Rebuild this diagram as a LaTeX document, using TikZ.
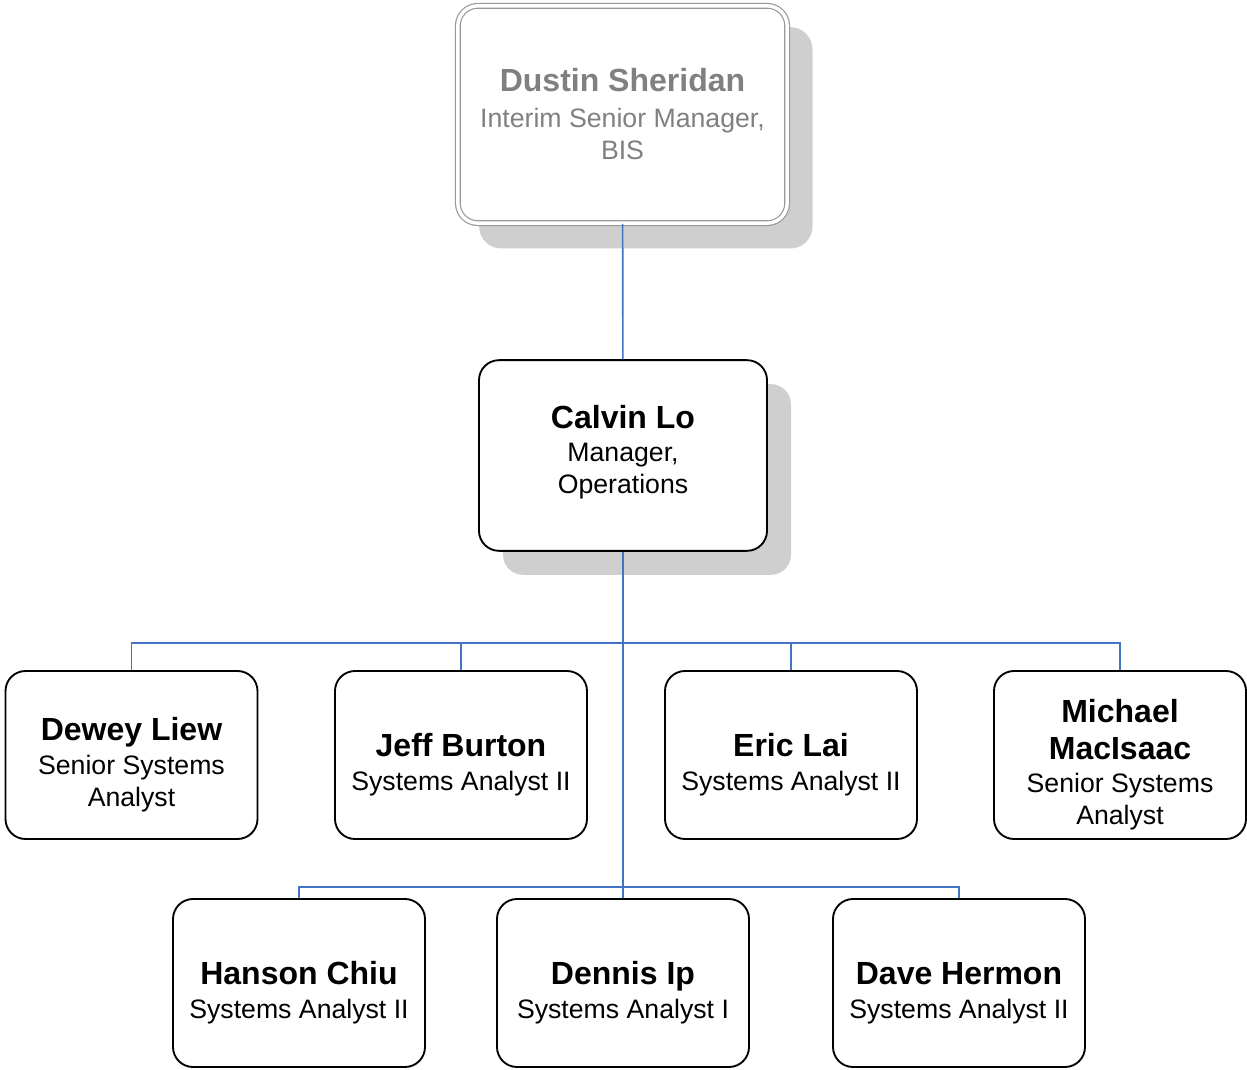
\documentclass[tikz,border=0pt]{standalone}
\usepackage{fontspec}
\setmainfont{Liberation Sans}
\usetikzlibrary{shadows}

\definecolor{azul}{RGB}{68,114,196}
\newcommand{\nombre}[1]{{\fontsize{24}{27}\selectfont\bfseries #1}}
\newcommand{\alto}{\rule{0pt}{32pt}}
\newcommand{\ficha}[2]{\alto\nombre{#1}\\[1pt]#2}

\tikzset{
    persona/.style={draw, line width=1.4pt, rounded corners=15pt, fill=white,
        align=center, minimum width=189pt, minimum height=126pt, inner sep=2pt,
        font=\fontsize{20}{24}\selectfont},
    jefe/.style={persona, drop shadow={shadow xshift=18pt, shadow yshift=-18pt,
        fill=black!19, opacity=1}},
    enlace/.style={draw=azul, line width=1.2pt}
}

\begin{document}
\begin{tikzpicture}[x=0.75pt, y=-0.75pt]
    \useasboundingbox (0,0) rectangle (1247,1070);

    % Direccion
    \node[persona, draw=black!40, line width=0.9pt, double, double distance=2.6pt,
        minimum width=247pt, minimum height=163pt, text=black!50,
        drop shadow={shadow xshift=17.5pt, shadow yshift=-17.5pt, fill=black!19,
        draw=black!19, line width=3pt, opacity=1}]
        (dustin) at (622.5,114.5)
        {\nombre{Dustin Sheridan}\\[3pt]Interim Senior Manager,\\BIS};
    \node[jefe, minimum width=216pt, minimum height=143pt]
        (calvin) at (623,455.5)
        {\nombre{Calvin Lo}\\[1pt]Manager,\\Operations\rule[-9pt]{0pt}{9pt}};

    % Primera fila
    \node[persona] (dewey) at (131.5,755) {\ficha{Dewey Liew}{Senior Systems\\Analyst}};
    \node[persona] (jeff) at (461,755) {\ficha{Jeff Burton}{Systems Analyst II}};
    \node[persona] (eric) at (791,755) {\ficha{Eric Lai}{Systems Analyst II}};
    \node[persona] (michael) at (1120,755)
        {\alto\nombre{Michael}\\[4pt]\nombre{MacIsaac}\\[1pt]Senior Systems\\Analyst};

    % Segunda fila
    \node[persona] (hanson) at (299,983) {\ficha{Hanson Chiu}{Systems Analyst II}};
    \node[persona] (dennis) at (623,983) {\ficha{Dennis Ip}{Systems Analyst I}};
    \node[persona] (dave) at (959,983) {\ficha{Dave Hermon}{Systems Analyst II}};

    % Lineas de mando
    \coordinate (bus1) at (623,643);
    \coordinate (bus2) at (623,887);
    \draw[enlace] (dustin) -- (calvin);
    \draw[enlace] (calvin) -- (dennis);
    \foreach \n in {dewey, jeff, eric, michael} {
        \draw[enlace] (\n.north) |- (bus1);
    }
    \foreach \n in {hanson, dave} {
        \draw[enlace] (\n.north) |- (bus2);
    }
\end{tikzpicture}
\end{document}
